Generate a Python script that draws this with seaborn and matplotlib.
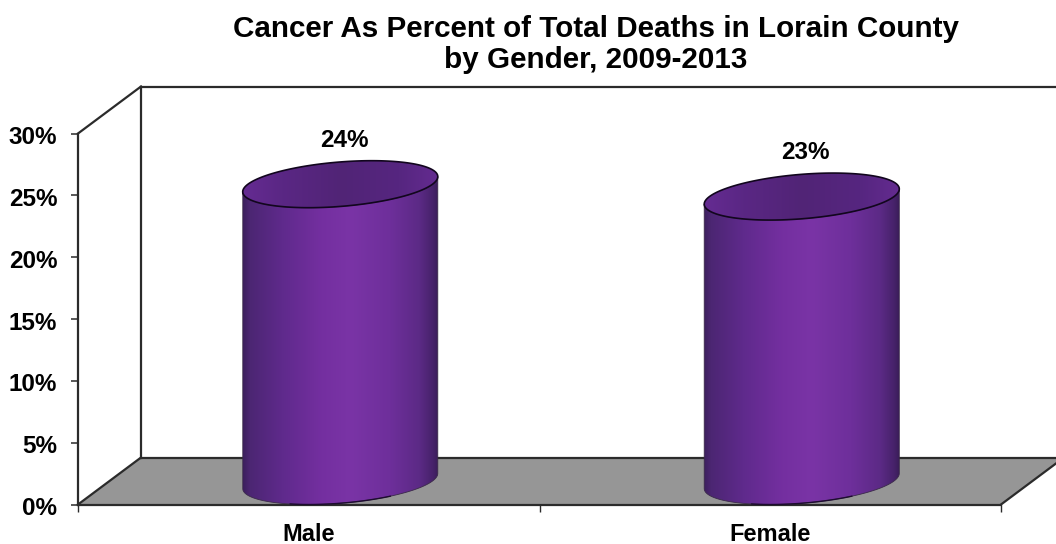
import numpy as np
import pandas as pd
import matplotlib
matplotlib.use("Agg")
import matplotlib.pyplot as plt
from matplotlib.colors import LinearSegmentedColormap
from matplotlib.patches import PathPatch, Polygon
from matplotlib.path import Path
from matplotlib.ticker import FuncFormatter
from matplotlib.transforms import ScaledTranslation
import seaborn as sns

# Chart data
categories = ["Male", "Female"]
percent_of_deaths = [24, 23]
percent_ticks = [0, 5, 10, 15, 20, 25, 30]
title_lines = ["Cancer As Percent of Total Deaths in Lorain County", "by Gender, 2009-2013"]

sns.set_theme(style="white")
plt.rcParams["font.family"] = ["Liberation Sans", "DejaVu Sans"]
plt.rcParams["font.weight"] = "bold"

W, H = 1056, 544
fig = plt.figure(figsize=(W / 100, H / 100), dpi=100, facecolor="white")
left, right, bottom, top = 78, 1001, 504.5, 133.5
ax = fig.add_axes([left / W, 1 - bottom / H, (right - left) / W, (bottom - top) / H])

frame = pd.DataFrame({"gender": categories, "percent": percent_of_deaths})
sns.barplot(data=frame, x="gender", y="percent", width=0.4, ax=ax, zorder=3)
ax.set_xlim(-0.5, 1.5)
ax.set_ylim(0, 30)
ax.set_xlabel("")
ax.set_ylabel("")

# Oblique depth of the plot box, as fractions of the axes
depth_fx, depth_fy = 63 / (right - left), 47 / (bottom - top)
line_col = "#2b2b2b"
to = ax.transAxes

floor = Polygon([(0, 0), (1, 0), (1 + depth_fx, depth_fy), (depth_fx, depth_fy)],
                closed=True, transform=to, clip_on=False, facecolor="#969696",
                edgecolor="none", zorder=0)
ax.add_patch(floor)
box_segments = [
    [(0, 0), (depth_fx, depth_fy)],
    [(1, 0), (1 + depth_fx, depth_fy)],
    [(depth_fx, depth_fy), (1 + depth_fx, depth_fy)],
    [(depth_fx, depth_fy), (depth_fx, 1 + depth_fy)],
    [(depth_fx, 1 + depth_fy), (1 + depth_fx, 1 + depth_fy)],
    [(0, 1), (depth_fx, 1 + depth_fy)],
]
for seg in box_segments:
    (x0, y0), (x1, y1) = seg
    ax.plot([x0, x1], [y0, y1], transform=to, color=line_col, lw=1.6,
            clip_on=False, zorder=1, solid_capstyle="projecting")

for name in ("top", "right"):
    ax.spines[name].set_visible(False)
for name in ("left", "bottom"):
    ax.spines[name].set_visible(True)
    ax.spines[name].set_color(line_col)
    ax.spines[name].set_linewidth(1.6)
    ax.spines[name].set_zorder(1)

# Depth expressed in data units, half of it being the cylinder's circle
x_per_unit = (right - left) / 2
y_per_unit = (bottom - top) / 30
dx = 31.5 / x_per_unit
dy = 23.5 / y_per_unit

body_shade = LinearSegmentedColormap.from_list(
    "cylinder",
    [(0.0, "#3d1f5e"), (0.035, "#4c2673"), (0.2, "#5f2a8c"), (0.4, "#742fa0"),
     (0.55, "#7a34a6"), (0.75, "#6e2f9b"), (0.9, "#5c2a86"), (0.97, "#47226b"), (1.0, "#3a1c58")],
)
cap_shade = LinearSegmentedColormap.from_list(
    "cylinder_cap",
    [(0.0, "#652b92"), (0.2, "#5a2784"), (0.5, "#512476"), (0.8, "#562680"), (1.0, "#642b90")],
)
gradient = np.linspace(0, 1, 256).reshape(1, -1)

t = np.linspace(0, 2 * np.pi, 241)


def circle(cx, cy, a, angle):
    return cx + a * np.cos(angle) + dx * np.sin(angle), cy + dy * np.sin(angle)


for bar, value in zip(ax.patches, percent_of_deaths):
    bar.set_visible(False)
    a = bar.get_width() / 2
    cx = bar.get_x() + a + dx
    cy_base, cy_top = dy, value + dy

    # Silhouette: near half of the base ellipse joined to the near half of the top
    extent = np.hypot(a, dx)
    turn = np.arctan2(dx, a)
    lower = np.linspace(turn + np.pi, turn + 2 * np.pi, 120)
    bx, by = circle(cx, cy_base, a, lower)
    ux, uy = circle(cx, cy_top, a, lower[::-1])
    verts = np.column_stack([np.r_[bx, ux], np.r_[by, uy]])
    body = Path(np.vstack([verts, verts[0]]), closed=True)

    img = ax.imshow(gradient, cmap=body_shade, aspect="auto", zorder=3, interpolation="bilinear",
                    extent=(cx - extent, cx + extent, 0, cy_top + dy))
    img.set_clip_path(PathPatch(body, transform=ax.transData))
    ax.add_patch(PathPatch(body, transform=ax.transData, facecolor="none",
                           edgecolor="#3b2a4a", lw=0.6, zorder=4, clip_on=False))

    # Only the lowest stretch of the base rim reads as a dark line
    near = np.abs(lower - (turn + 1.5 * np.pi)) < 0.55
    ax.plot(bx[near], by[near], color="#1d0b30", lw=1.0, zorder=4, clip_on=False)

    cap_x, cap_y = circle(cx, cy_top, a, t)
    cap_path = Path(np.column_stack([cap_x, cap_y]), closed=True)
    cap_img = ax.imshow(gradient, cmap=cap_shade, aspect="auto", zorder=5, interpolation="bilinear",
                        extent=(cx - extent, cx + extent, cy_top - dy, cy_top + dy))
    cap_img.set_clip_path(PathPatch(cap_path, transform=ax.transData))
    ax.add_patch(PathPatch(cap_path, transform=ax.transData, facecolor="none",
                           edgecolor="#12061e", lw=1.2, zorder=6, clip_on=False))

    ax.annotate(f"{value}%", xy=(cx, cy_top), xytext=(2.8, 31.4), textcoords="offset points",
                ha="center", va="center", fontsize=17.5, fontweight="bold", color="black",
                annotation_clip=False, zorder=7)

ax.set_xlim(-0.5, 1.5)
ax.set_ylim(0, 30)

ax.set_yticks(percent_ticks)
ax.yaxis.set_major_formatter(FuncFormatter(lambda v, _: f"{v:.0f}%"))
ax.tick_params(axis="y", which="major", left=True, length=5, width=1.1, color=line_col,
               pad=10, labelsize=17.5)
ax.set_xticks(range(len(categories)), categories)
ax.set_xticks([-0.5, 0.5, 1.5], minor=True)
ax.tick_params(axis="x", which="major", bottom=False, pad=7, labelsize=17)
ax.tick_params(axis="x", which="minor", bottom=True, length=5, width=1.0, color=line_col)

# The percent labels sit slightly below their tick marks
nudge = ScaledTranslation(0, -1.5 / 100, fig.dpi_scale_trans)
for lab in ax.get_yticklabels():
    lab.set_transform(lab.get_transform() + nudge)
for lab in ax.get_xticklabels() + ax.get_yticklabels():
    lab.set_fontweight("bold")
    lab.set_color("black")

fig.text(596 / W, 1 - 44.5 / H, "\n".join(title_lines), ha="center", va="center",
         fontsize=21.3, fontweight="bold", color="black", linespacing=1.14)

fig.savefig("out.png", dpi=100, facecolor="white")
